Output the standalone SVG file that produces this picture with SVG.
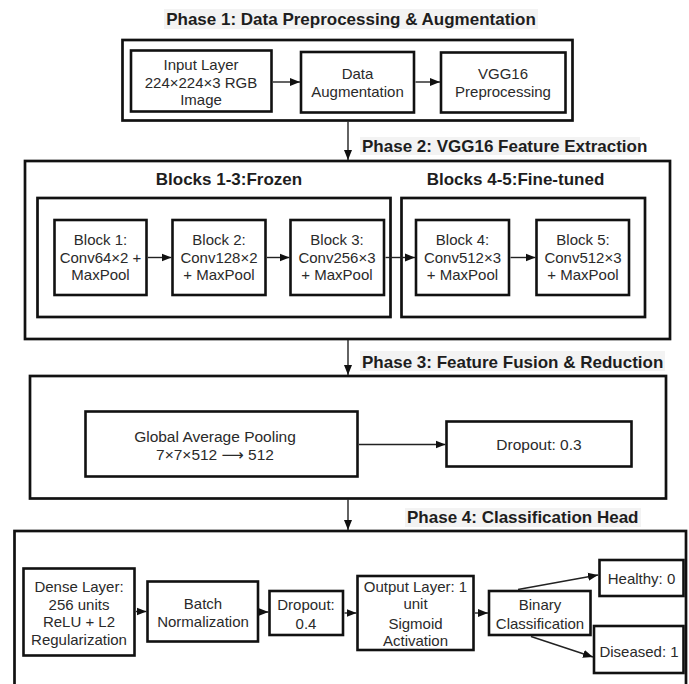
<svg xmlns="http://www.w3.org/2000/svg" width="689" height="684" viewBox="0 0 689 684">
<style>
.frame{fill:none;stroke:#111;stroke-width:2.7}
.node{fill:#fff;stroke:#111;stroke-width:2.6}
.t{font-family:"Liberation Sans",Arial,sans-serif;font-size:15px;fill:#2a2a2a;text-anchor:middle}
.t3{font-family:"Liberation Sans",Arial,sans-serif;font-size:15.5px;fill:#2a2a2a;text-anchor:middle}
.h{font-family:"Liberation Sans",Arial,sans-serif;font-size:17px;font-weight:bold;fill:#1e1e1e}
.hbg{fill:#f3f3f3}
.c{fill:none;stroke:#222;stroke-width:1.4}
.arr{font-family:"DejaVu Sans",sans-serif}
</style>
<defs>
<marker id="ah" markerUnits="userSpaceOnUse" markerWidth="10" markerHeight="10" viewBox="0 0 10 10" refX="10" refY="5" orient="auto">
<path d="M0,1 L10,5 L0,9 Z" fill="#111"/>
</marker>
</defs>
<rect width="689" height="684" fill="#fff"/>

<!-- Phase titles -->
<g id="title1"><rect class="hbg" x="164" y="9" width="374" height="20"/><text class="h" x="351" y="24.5" text-anchor="middle">Phase 1: Data Preprocessing &amp; Augmentation</text></g>
<g id="title2"><rect class="hbg" x="360" y="137" width="280" height="18"/><text class="h" x="362" y="151.5">Phase 2: VGG16 Feature Extraction</text></g>
<g id="title3"><rect class="hbg" x="360" y="351" width="305" height="20"/><text class="h" x="362" y="367.5">Phase 3: Feature Fusion &amp; Reduction</text></g>
<g id="title4"><rect class="hbg" x="405" y="508" width="236" height="19"/><text class="h" x="407" y="523">Phase 4: Classification Head</text></g>

<!-- Phase frames -->
<g id="phase1"><rect class="frame" x="122.5" y="40" width="450" height="80.5"/></g>
<g id="phase2"><rect class="frame" x="25" y="161" width="645" height="178"/>
<text class="h" x="229" y="185" text-anchor="middle">Blocks 1-3:Frozen</text>
<text class="h" x="515.5" y="185" text-anchor="middle">Blocks 4-5:Fine-tuned</text>
<rect class="frame" x="37.5" y="198" width="353" height="119"/>
<rect class="frame" x="401.5" y="198" width="243.5" height="119"/>
</g>
<g id="phase3"><rect class="frame" x="30" y="376" width="636" height="122.5"/></g>
<g id="phase4"><rect class="frame" x="14.5" y="531" width="671.5" height="160"/></g>

<!-- Phase 1 nodes -->
<g id="input"><rect class="node" x="131" y="50.5" width="140.5" height="61" stroke-width="3"/>
<text class="t" x="201" y="70">Input Layer</text><text class="t" x="201" y="87.5">224×224×3 RGB</text><text class="t" x="201" y="105">Image</text></g>
<g id="aug"><rect class="node" x="301" y="52" width="113" height="60.5"/>
<text class="t" x="357.5" y="79">Data</text><text class="t" x="357.5" y="96.5">Augmentation</text></g>
<g id="vggpre"><rect class="node" x="441" y="52.5" width="124.5" height="60"/>
<text class="t" x="503" y="79">VGG16</text><text class="t" x="503" y="96.5">Preprocessing</text></g>

<!-- Phase 2 nodes -->
<g id="block1"><rect class="node" x="54.5" y="220" width="92" height="75"/>
<text class="t" x="100.5" y="245">Block 1:</text><text class="t" x="100.5" y="262.5">Conv64×2 +</text><text class="t" x="100.5" y="280">MaxPool</text></g>
<g id="block2"><rect class="node" x="172.5" y="220" width="93" height="75"/>
<text class="t" x="219" y="245">Block 2:</text><text class="t" x="219" y="262.5">Conv128×2</text><text class="t" x="219" y="280">+ MaxPool</text></g>
<g id="block3"><rect class="node" x="290.5" y="220" width="93.5" height="75"/>
<text class="t" x="337" y="245">Block 3:</text><text class="t" x="337" y="262.5">Conv256×3</text><text class="t" x="337" y="280">+ MaxPool</text></g>
<g id="block4"><rect class="node" x="416" y="220" width="93" height="75"/>
<text class="t" x="462.5" y="245">Block 4:</text><text class="t" x="462.5" y="262.5">Conv512×3</text><text class="t" x="462.5" y="280">+ MaxPool</text></g>
<g id="block5"><rect class="node" x="536.5" y="220" width="92.5" height="75"/>
<text class="t" x="583" y="245">Block 5:</text><text class="t" x="583" y="262.5">Conv512×3</text><text class="t" x="583" y="280">+ MaxPool</text></g>

<!-- Phase 3 nodes -->
<g id="gap"><rect class="node" x="85.5" y="411.5" width="272" height="65"/>
<text class="t3" x="215" y="441.5">Global Average Pooling</text><text class="t3" x="215" y="460">7×7×512 <tspan class="arr">⟶</tspan> 512</text></g>
<g id="drop3"><rect class="node" x="446.5" y="421.5" width="185" height="45"/>
<text class="t3" x="539" y="449.5">Dropout: 0.3</text></g>

<!-- Phase 4 nodes -->
<g id="dense"><rect class="node" x="23.5" y="568.5" width="111" height="87"/>
<text class="t" x="79" y="592">Dense Layer:</text><text class="t" x="79" y="609.5">256 units</text><text class="t" x="79" y="627">ReLU + L2</text><text class="t" x="79" y="644.5">Regularization</text></g>
<g id="bn"><rect class="node" x="147.5" y="581.5" width="110.5" height="60"/>
<text class="t" x="203" y="608.5">Batch</text><text class="t" x="203" y="626.5">Normalization</text></g>
<g id="drop4"><rect class="node" x="269.5" y="591" width="73.5" height="44"/>
<text class="t" x="306" y="610">Dropout:</text><text class="t" x="306" y="628.5">0.4</text></g>
<g id="outl"><rect class="node" x="357.5" y="576" width="116" height="74"/>
<text class="t" x="415.5" y="592">Output Layer: 1</text><text class="t" x="415.5" y="609">unit</text><text class="t" x="415.5" y="628.5">Sigmoid</text><text class="t" x="415.5" y="645.5">Activation</text></g>
<g id="binary"><rect class="node" x="489" y="591" width="101.5" height="44"/>
<text class="t" x="540" y="610">Binary</text><text class="t" x="540" y="628.5">Classification</text></g>
<g id="healthy"><rect class="node" x="599.5" y="560" width="84" height="36"/>
<text class="t" x="641.5" y="583.5">Healthy: 0</text></g>
<g id="diseased"><rect class="node" x="594" y="626" width="89.5" height="47"/>
<text class="t" x="639" y="657">Diseased: 1</text></g>

<!-- Connectors -->
<g id="connectors">
<line class="c" x1="348" y1="121.5" x2="348" y2="160" marker-end="url(#ah)"/>
<line class="c" x1="348" y1="340" x2="348" y2="375" marker-end="url(#ah)"/>
<line class="c" x1="348" y1="499.5" x2="348" y2="530" marker-end="url(#ah)"/>
<line class="c" x1="273" y1="82" x2="300" y2="82" marker-end="url(#ah)"/>
<line class="c" x1="415.5" y1="82" x2="440" y2="82" marker-end="url(#ah)"/>
<line class="c" x1="148" y1="257.5" x2="171.5" y2="257.5" marker-end="url(#ah)"/>
<line class="c" x1="267" y1="257.5" x2="289.5" y2="257.5" marker-end="url(#ah)"/>
<line class="c" x1="385.5" y1="257.5" x2="415" y2="257.5" marker-end="url(#ah)"/>
<line class="c" x1="510.5" y1="257.5" x2="535.5" y2="257.5" marker-end="url(#ah)"/>
<line class="c" x1="359" y1="444.5" x2="445.5" y2="444.5" marker-end="url(#ah)"/>
<line class="c" x1="136" y1="611.5" x2="146.5" y2="611.5" marker-end="url(#ah)"/>
<line class="c" x1="259.5" y1="612" x2="268.5" y2="612" marker-end="url(#ah)"/>
<line class="c" x1="344.5" y1="613" x2="356.5" y2="613" marker-end="url(#ah)"/>
<line class="c" x1="475" y1="613" x2="488" y2="613" marker-end="url(#ah)"/>
<line class="c" x1="518" y1="589.5" x2="598" y2="575" marker-end="url(#ah)"/>
<line class="c" x1="531" y1="636.5" x2="593" y2="657" marker-end="url(#ah)"/>
</g>
</svg>
